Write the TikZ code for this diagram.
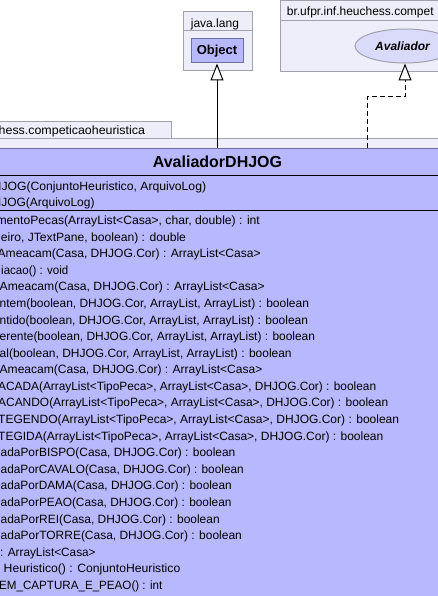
\documentclass[tikz,border=0pt]{standalone}
\usepackage{fontspec}
\usepackage{graphicx}
\setmainfont{Liberation Sans}
\usetikzlibrary{arrows.meta,shapes.geometric}
\definecolor{clsfill}{RGB}{184,184,255}
\definecolor{pkgfill}{RGB}{238,238,250}
\definecolor{pkgdraw}{RGB}{160,160,175}
\definecolor{clsdraw}{RGB}{110,110,160}
\definecolor{ellfill}{RGB}{218,218,250}
\newcommand{\memline}[5]{\node[mem] (#1) at (#2,#3) {\scalebox{#4}[1]{#5}};}
\begin{document}
\begin{tikzpicture}[x=1pt,y=-1pt,
  pkg/.style={draw=pkgdraw, fill=pkgfill, line width=1pt},
  pkgtxt/.style={inner sep=0pt, font=\fontsize{12}{14}\selectfont},
  mem/.style={inner sep=0pt, font=\fontsize{12}{14}\selectfont, anchor=base west},
  sepline/.style={draw=black, line width=1pt},
  gen/.style={-{Triangle[open,fill=white,length=17pt,width=13pt]}, line width=1pt},
  real/.style={gen, dash pattern=on 5pt off 3pt}
  ]
\useasboundingbox (0,0) rectangle (438,596);
\clip (0,0) rectangle (438,596);
\fill[white] (0,0) rectangle (438,596);
% package java.lang
\draw[pkg] (183,12) rectangle (252,31);
\draw[pkg] (183,31) rectangle (252,71);
\node[pkgtxt, anchor=base west] (jl) at (190.7,27.3) {java.lang};
\node[draw=clsdraw, fill=clsfill, line width=1pt, minimum width=52pt, minimum height=24pt, inner sep=0pt,
  font=\bfseries\fontsize{13}{15}\selectfont] (obj) at (217,51) {Object};
% package br.ufpr...
\draw[pkg] (280,1) rectangle (520,20.7);
\draw[pkg] (280,20.7) rectangle (520,71.3);
\node[pkgtxt, anchor=base west] (bp) at (286.7,15.7) {br.ufpr.inf.heuchess.compet};
\node[ellipse, draw=pkgdraw, fill=ellfill, line width=1pt, minimum width=100pt, minimum height=34pt, inner sep=0pt,
  font=\bfseries\itshape\fontsize{12}{14}\selectfont] (ava) at (405,46) {\hspace*{-5pt}Avaliador};
% lower package
\draw[pkg] (-20,122) rectangle (171,139);
\draw[pkg] (-20,139) rectangle (520,700);
\node[pkgtxt, anchor=base west] (lp) at (-1.5,134.3) {\scalebox{1.035}[1]{hess.competicaoheuristica}};
% class
\node[draw=clsdraw, fill=clsfill, line width=1pt, minimum width=580pt, minimum height=500pt, inner sep=0pt,
  anchor=north west] (cls) at (-72,148) {};
\node[inner sep=0pt, anchor=base, font=\bfseries\fontsize{16}{18}\selectfont] (title) at (217.5,167.7) {AvaliadorDHJOG};
\draw[sepline] (-72,175.7) -- (508,175.7);
\draw[sepline] (-72,210) -- (508,210);
\memline{c1}{-7.5}{190}{1.016}{HJOG(ConjuntoHeuristico, ArquivoLog)}
\memline{c2}{-7.5}{206}{0.998}{HJOG(ArquivoLog)}
\memline{m1}{-3.6}{224.5}{1.013}{mentoPecas(ArrayList<Casa>, char, double) : int}
\memline{m2}{0.7}{241.09}{1.010}{eiro, JTextPane, boolean) : double}
\memline{m3}{-2.5}{257.68}{1.004}{Ameacam(Casa, DHJOG.Cor) : ArrayList<Casa>}
\memline{m4}{1}{274.27}{0.961}{iacao() : void}
\memline{m5}{-0.5}{290.86}{1.012}{Ameacam(Casa, DHJOG.Cor) : ArrayList<Casa>}
\memline{m6}{-0.5}{307.45}{0.998}{ntem(boolean, DHJOG.Cor, ArrayList, ArrayList) : boolean}
\memline{m7}{-0.5}{324.04}{0.997}{ntido(boolean, DHJOG.Cor, ArrayList, ArrayList) : boolean}
\memline{m8}{-0.5}{340.63}{0.994}{erente(boolean, DHJOG.Cor, ArrayList, ArrayList) : boolean}
\memline{m9}{-0.5}{357.22}{0.998}{al(boolean, DHJOG.Cor, ArrayList, ArrayList) : boolean}
\memline{m10}{-0.5}{373.81}{1.003}{Ameacam(Casa, DHJOG.Cor) : ArrayList<Casa>}
\memline{m11}{-2}{390.40}{0.989}{ACADA(ArrayList<TipoPeca>, ArrayList<Casa>, DHJOG.Cor) : boolean}
\memline{m12}{-2}{406.99}{0.9945}{ACANDO(ArrayList<TipoPeca>, ArrayList<Casa>, DHJOG.Cor) : boolean}
\memline{m13}{-2}{423.58}{1.002}{TEGENDO(ArrayList<TipoPeca>, ArrayList<Casa>, DHJOG.Cor) : boolean}
\memline{m14}{-2}{440.17}{0.999}{TEGIDA(ArrayList<TipoPeca>, ArrayList<Casa>, DHJOG.Cor) : boolean}
\memline{m15}{0.5}{456.76}{0.992}{adaPorBISPO(Casa, DHJOG.Cor) : boolean}
\memline{m16}{0.5}{473.35}{0.985}{adaPorCAVALO(Casa, DHJOG.Cor) : boolean}
\memline{m17}{0.5}{489.94}{0.985}{adaPorDAMA(Casa, DHJOG.Cor) : boolean}
\memline{m18}{0.5}{506.53}{0.990}{adaPorPEAO(Casa, DHJOG.Cor) : boolean}
\memline{m19}{0.5}{523.12}{0.996}{adaPorREI(Casa, DHJOG.Cor) : boolean}
\memline{m20}{0.5}{539.71}{0.998}{adaPorTORRE(Casa, DHJOG.Cor) : boolean}
\memline{m21}{0}{556.30}{0.982}{: ArrayList<Casa>}
\memline{m22}{3.5}{572.89}{1.016}{Heuristico() : ConjuntoHeuristico}
\memline{m23}{-1}{589.48}{0.968}{EM\_CAPTURA\_E\_PEAO() : int}
% connectors
\draw[gen] (cls.north -| obj.south) -- (obj.south);
\coordinate (rs) at (367,148);
\draw[real] (rs) -- ++(0,-51) -| (ava.south);
\end{tikzpicture}
\end{document}
